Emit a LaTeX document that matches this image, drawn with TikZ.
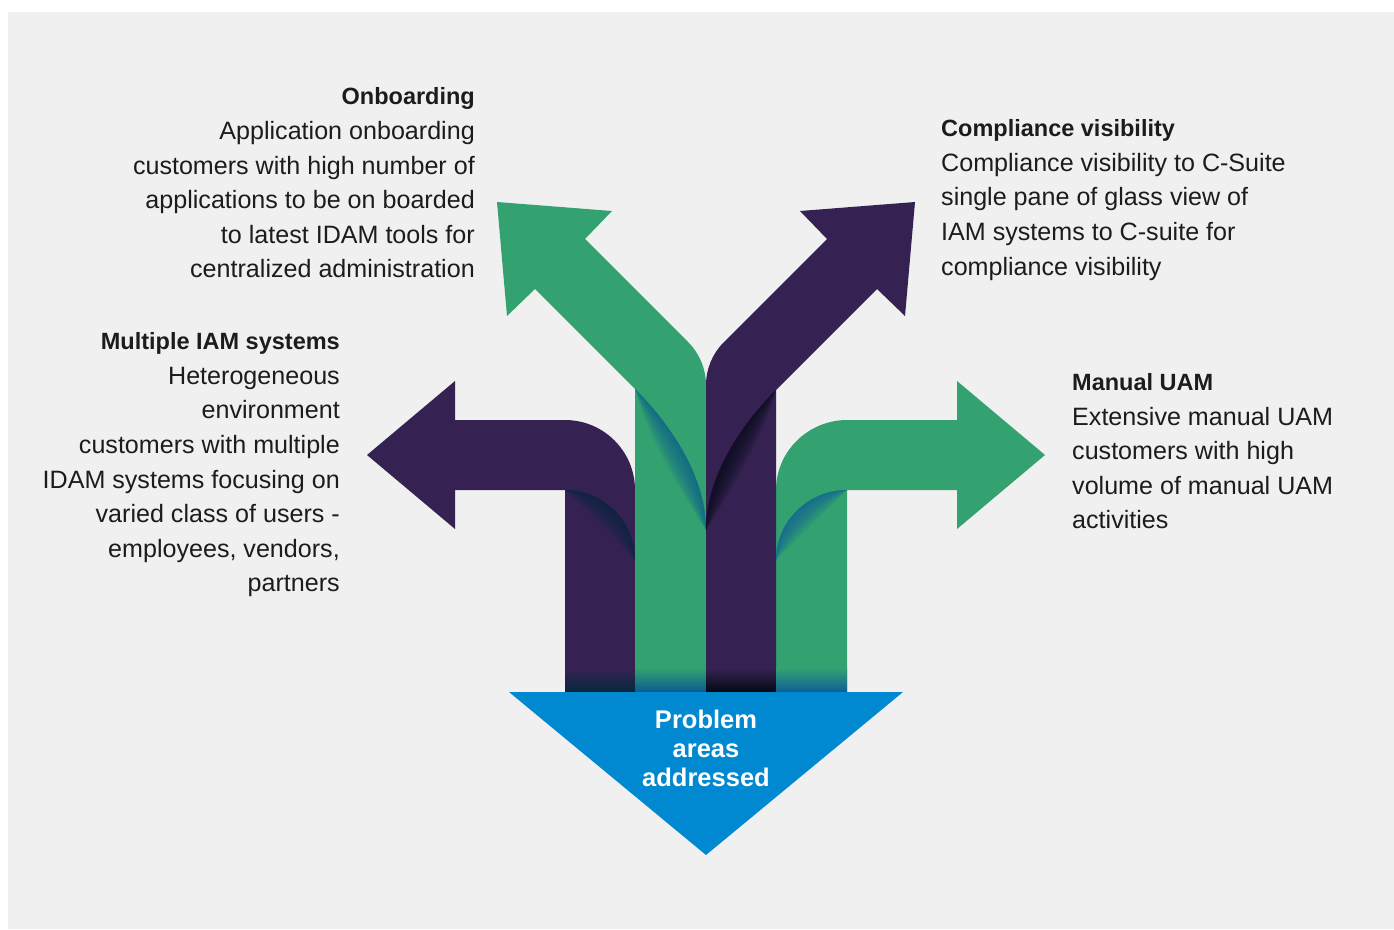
\documentclass[tikz,border=0pt]{standalone}
\usepackage{fontspec}
\setmainfont{Liberation Sans}
\definecolor{bg}{HTML}{F0F0F0}
\definecolor{grn}{HTML}{33A170}
\definecolor{purp}{HTML}{352253}
\definecolor{tri}{HTML}{0089D0}
\definecolor{txt}{HTML}{1C1C1C}
\definecolor{shA}{HTML}{06283D}
\definecolor{shB}{HTML}{0A5A90}
\definecolor{shC}{HTML}{030A14}
\definecolor{shD}{HTML}{0E5E9B}
\newcommand\mybodyfont{\fontsize{25.1}{30}\selectfont}
\newcommand\mytitlefont{\fontsize{23.5}{30}\selectfont\bfseries}
\newcommand\mytrifont{\fontsize{25.5}{30}\selectfont\bfseries}
\tikzset{
  body/.style={font=\mybodyfont, text=txt, inner sep=0pt},
  ttl/.style={font=\mytitlefont, text=txt, inner sep=0pt},
  trit/.style={font=\mytrifont, text=white, inner sep=0pt, anchor=base},
  shade layer/.style={fill=#1, opacity=0.12}
}
\begin{document}
\begin{tikzpicture}[x=1pt,y=-1pt]
\useasboundingbox (0,0) rectangle (1394,929);
\fill[white] (0,0) rectangle (1394,929);
\fill[bg] (8,12) rectangle (1394,929);

% left purple arrow
\fill[purp] (367,455) -- (455,381) -- (455,420) -- (565,420)
  .. controls (603.7,420) and (635,451.3) .. (635,490) -- (635,692) -- (565,692)
  -- (565,490) -- (455,490) -- (455,529) -- cycle;
% right green arrow
\fill[grn] (1045,455) -- (957,529) -- (957,490) -- (847,490) -- (847,692) -- (776,692)
  -- (776,490) .. controls (776,451.3) and (808.3,420) .. (847,420)
  -- (957,420) -- (957,381) -- cycle;
% upper-left green arrow
\fill[grn] (497,202) -- (612,211) -- (585,239) -- (688.3,342.3)
  .. controls (699.6,353.6) and (706,369) .. (706,385) -- (706,692) -- (635,692)
  -- (635,389) -- (535,289) -- (507,316) -- cycle;
% upper-right purple arrow
\fill[purp] (915,202) -- (800,211) -- (827,239) -- (723.7,342.3)
  .. controls (712.4,353.6) and (706,369) .. (706,385) -- (706,692) -- (776,692)
  -- (776,390) -- (877,289) -- (905,316) -- cycle;

% shadows (tapered crescents)
\begin{scope}
\clip (565,490) rectangle (635,692);
\foreach \d in {3,6,...,27}
  \fill[shade layer=shA] (565,490) .. controls (603.7,490) and (635,521.3) .. (635,560)
    .. controls ({635-0.7*\d},{521.3+0.7*\d}) and ({603.7-0.7*\d},{490+0.7*\d}) .. (565,490) -- cycle;
\end{scope}
\begin{scope}
\clip (776,490) rectangle (847,692);
\foreach \d in {3,6,...,27}
  \fill[shade layer=shD] (847,490) .. controls (808.3,490) and (776,521.3) .. (776,560)
    .. controls ({776+0.7*\d},{521.3+0.7*\d}) and ({808.3+0.7*\d},{490+0.7*\d}) .. (847,490) -- cycle;
\end{scope}
\begin{scope}
\clip (635,385) rectangle (706,692);
\foreach \d in {3,6,...,27}
  \fill[shade layer=shB] (635,389) .. controls (675,429) and (706,480) .. (706,530)
    .. controls ({706-\d},{480+0.3*\d}) and ({675-\d},{429+0.3*\d}) .. (635,389) -- cycle;
\end{scope}
\begin{scope}
\clip (706,385) rectangle (776,692);
\foreach \d in {3,6,...,27}
  \fill[shade layer=shC] (776,390) .. controls (737,429) and (706,480) .. (706,530)
    .. controls ({706+\d},{480+0.3*\d}) and ({737+\d},{429+0.3*\d}) .. (776,390) -- cycle;
\end{scope}

% bottom gradients
\shade[top color=purp, bottom color=shA] (565,668) rectangle (635,692);
\shade[top color=grn, bottom color=shB] (635,668) rectangle (706,692);
\shade[top color=purp, bottom color=shC] (706,668) rectangle (776,692);
\shade[top color=grn, bottom color=shD] (776,668) rectangle (847,692);

% triangle
\fill[tri] (509,692) -- (903,692) -- (706,855) -- cycle;
\node[trit] (pr1) at (706,728.3) {Problem};
\node[trit] (pr2) at (706,757.5) {areas};
\node[trit] (pr3) at (706,786.7) {addressed};

% Onboarding
\node[ttl, anchor=base east] (obt) at (475,104.5) {Onboarding};
\foreach \t [count=\i] in {Application onboarding, customers with high number of, applications to be on boarded, to latest IDAM tools for, centralized administration}
  \node[body, anchor=base east] (ob\i) at (475,{139.5+34.6*(\i-1)}) {\t};

% Compliance visibility
\node[ttl, anchor=base west] (cvt) at (941,136) {Compliance visibility};
\foreach \t [count=\i] in {Compliance visibility to C-Suite, single pane of glass view of, IAM systems to C-suite for, compliance visibility}
  \node[body, anchor=base west] (cv\i) at (941,{171+34.8*(\i-1)}) {\t};

% Multiple IAM systems
\node[ttl, anchor=base east] (mit) at (340,349) {Multiple IAM systems};
\foreach \t [count=\i] in {Heterogeneous, environment, customers with multiple, IDAM systems focusing on, varied class of users -, {employees, vendors,}, partners}
  \node[body, anchor=base east] (mi\i) at (340,{384.3+34.6*(\i-1)}) {\t};

% Manual UAM
\node[ttl, anchor=base west] (mut) at (1072,390) {Manual UAM};
\foreach \t [count=\i] in {Extensive manual UAM, customers with high, volume of manual UAM, activities}
  \node[body, anchor=base west] (mu\i) at (1072,{425+34.5*(\i-1)}) {\t};
\end{tikzpicture}
\end{document}
